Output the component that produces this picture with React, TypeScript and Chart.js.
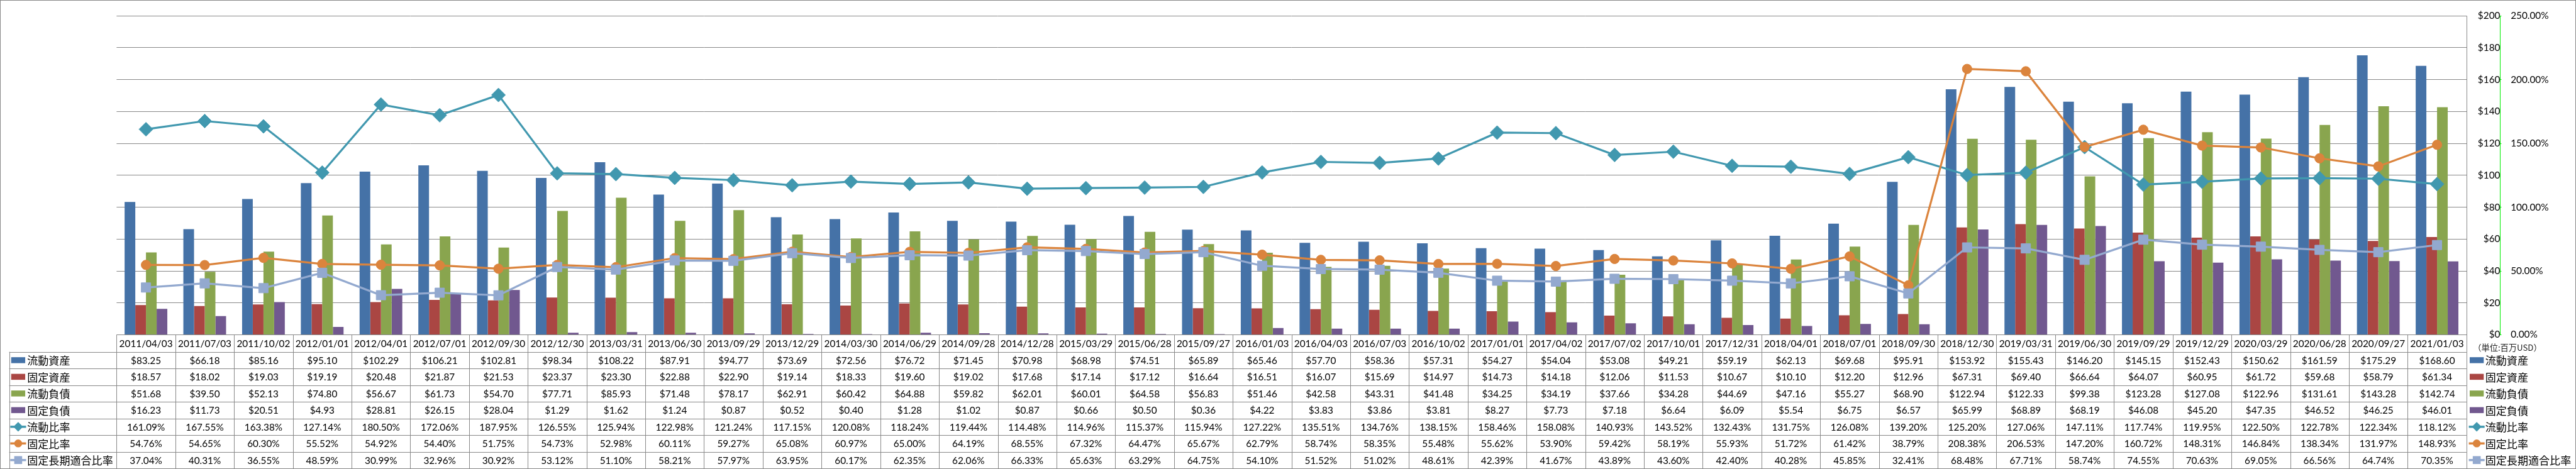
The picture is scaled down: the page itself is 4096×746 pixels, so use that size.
import { useEffect, useRef } from 'react';
import { Chart, registerables } from 'chart.js';

Chart.register(...registerables);

const W = 4096;
const H = 746;
const S = W / 5877;

const categories = [
  '2011/04/03', '2011/07/03', '2011/10/02', '2012/01/01', '2012/04/01', '2012/07/01', '2012/09/30', '2012/12/30',
  '2013/03/31', '2013/06/30', '2013/09/29', '2013/12/29', '2014/03/30', '2014/06/29', '2014/09/28', '2014/12/28',
  '2015/03/29', '2015/06/28', '2015/09/27', '2016/01/03', '2016/04/03', '2016/07/03', '2016/10/02', '2017/01/01',
  '2017/04/02', '2017/07/02', '2017/10/01', '2017/12/31', '2018/04/01', '2018/07/01', '2018/09/30', '2018/12/30',
  '2019/03/31', '2019/06/30', '2019/09/29', '2019/12/29', '2020/03/29', '2020/06/28', '2020/09/27', '2021/01/03',
];

const currentAssets = [
  83.25, 66.18, 85.16, 95.10, 102.29, 106.21, 102.81, 98.34, 108.22, 87.91, 94.77, 73.69, 72.56, 76.72, 71.45, 70.98,
  68.98, 74.51, 65.89, 65.46, 57.70, 58.36, 57.31, 54.27, 54.04, 53.08, 49.21, 59.19, 62.13, 69.68, 95.91, 153.92,
  155.43, 146.20, 145.15, 152.43, 150.62, 161.59, 175.29, 168.60,
];
const fixedAssets = [
  18.57, 18.02, 19.03, 19.19, 20.48, 21.87, 21.53, 23.37, 23.30, 22.88, 22.90, 19.14, 18.33, 19.60, 19.02, 17.68,
  17.14, 17.12, 16.64, 16.51, 16.07, 15.69, 14.97, 14.73, 14.18, 12.06, 11.53, 10.67, 10.10, 12.20, 12.96, 67.31,
  69.40, 66.64, 64.07, 60.95, 61.72, 59.68, 58.79, 61.34,
];
const currentLiabilities = [
  51.68, 39.50, 52.13, 74.80, 56.67, 61.73, 54.70, 77.71, 85.93, 71.48, 78.17, 62.91, 60.42, 64.88, 59.82, 62.01,
  60.01, 64.58, 56.83, 51.46, 42.58, 43.31, 41.48, 34.25, 34.19, 37.66, 34.28, 44.69, 47.16, 55.27, 68.90, 122.94,
  122.33, 99.38, 123.28, 127.08, 122.96, 131.61, 143.28, 142.74,
];
const fixedLiabilities = [
  16.23, 11.73, 20.51, 4.93, 28.81, 26.15, 28.04, 1.29, 1.62, 1.24, 0.87, 0.52, 0.40, 1.28, 1.02, 0.87,
  0.66, 0.50, 0.36, 4.22, 3.83, 3.86, 3.81, 8.27, 7.73, 7.18, 6.64, 6.09, 5.54, 6.75, 6.57, 65.99,
  68.89, 68.19, 46.08, 45.20, 47.35, 46.52, 46.25, 46.01,
];
const currentRatio = [
  161.09, 167.55, 163.38, 127.14, 180.50, 172.06, 187.95, 126.55, 125.94, 122.98, 121.24, 117.15, 120.08, 118.24,
  119.44, 114.48, 114.96, 115.37, 115.94, 127.22, 135.51, 134.76, 138.15, 158.46, 158.08, 140.93, 143.52, 132.43,
  131.75, 126.08, 139.20, 125.20, 127.06, 147.11, 117.74, 119.95, 122.50, 122.78, 122.34, 118.12,
];
const fixedRatio = [
  54.76, 54.65, 60.30, 55.52, 54.92, 54.40, 51.75, 54.73, 52.98, 60.11, 59.27, 65.08, 60.97, 65.00, 64.19, 68.55,
  67.32, 64.47, 65.67, 62.79, 58.74, 58.35, 55.48, 55.62, 53.90, 59.42, 58.19, 55.93, 51.72, 61.42, 38.79, 208.38,
  206.53, 147.20, 160.72, 148.31, 146.84, 138.34, 131.97, 148.93,
];
const fixedLongTermRatio = [
  37.04, 40.31, 36.55, 48.59, 30.99, 32.96, 30.92, 53.12, 51.10, 58.21, 57.97, 63.95, 60.17, 62.35, 62.06, 66.33,
  65.63, 63.29, 64.75, 54.10, 51.52, 51.02, 48.61, 42.39, 41.67, 43.89, 43.60, 42.40, 40.28, 45.85, 32.41, 68.48,
  67.71, 58.74, 74.55, 70.63, 69.05, 66.56, 64.74, 70.35,
];

const seriesLabels = ['流動資産', '固定資産', '流動負債', '固定負債', '流動比率', '固定比率', '固定長期適合比率'];
const dollarAxisMax = 200;
const dollarAxisStep = 20;
const percentAxisMax = 250;
const percentAxisStep = 50;
const unitLabel = '（単位:百万USD）';

const BLUE = '#4572A7';
const RED = '#AA4643';
const GREEN = '#89A54E';
const PURPLE = '#71588F';
const TEAL = '#4198AF';
const ORANGE = '#DB843D';
const LIGHTBLUE = '#93A9CF';
const GRID = '#888888';
const AXIS_GREEN = '#00EE00';

const NUM_FONT = 'Lato, "Noto Sans CJK JP", sans-serif';
const CJK_FONT = '"Noto Sans CJK JP", sans-serif';
const TF = 22 * S;

// layout in reference pixels
const PLOT_L = 266;
const PLOT_R = 5627;
const PLOT_T = 15;
const PLOT_B = 764;
const Y_AXIS_W = 77;

type Marker = 'diamond' | 'circle' | 'square';
type RowDef = {
  label: string;
  values: number[];
  kind: 'bar' | 'line';
  color: string;
  marker?: Marker;
  fmt: (v: number) => string;
};

const money = (v: number) => '$' + v.toFixed(2);
const pct = (v: number) => v.toFixed(2) + '%';

const rows: RowDef[] = [
  { label: seriesLabels[0], values: currentAssets, kind: 'bar', color: BLUE, fmt: money },
  { label: seriesLabels[1], values: fixedAssets, kind: 'bar', color: RED, fmt: money },
  { label: seriesLabels[2], values: currentLiabilities, kind: 'bar', color: GREEN, fmt: money },
  { label: seriesLabels[3], values: fixedLiabilities, kind: 'bar', color: PURPLE, fmt: money },
  { label: seriesLabels[4], values: currentRatio, kind: 'line', color: TEAL, marker: 'diamond', fmt: pct },
  { label: seriesLabels[5], values: fixedRatio, kind: 'line', color: ORANGE, marker: 'circle', fmt: pct },
  { label: seriesLabels[6], values: fixedLongTermRatio, kind: 'line', color: LIGHTBLUE, marker: 'square', fmt: pct },
];

function drawMarker(ctx: CanvasRenderingContext2D, m: Marker, x: number, y: number, r: number, color: string) {
  ctx.fillStyle = color;
  ctx.beginPath();
  if (m === 'diamond') {
    ctx.moveTo(x - r, y);
    ctx.lineTo(x, y - r);
    ctx.lineTo(x + r, y);
    ctx.lineTo(x, y + r);
    ctx.closePath();
  } else if (m === 'circle') {
    ctx.arc(x, y, r, 0, Math.PI * 2);
  } else {
    ctx.rect(x - r, y - r, 2 * r, 2 * r);
  }
  ctx.fill();
}

function drawKey(ctx: CanvasRenderingContext2D, row: RowDef, cx: number, cy: number) {
  if (row.kind === 'bar') {
    ctx.fillStyle = row.color;
    ctx.fillRect(cx - 16 * S, cy - 6.8 * S, 32 * S, 13.6 * S);
  } else {
    ctx.strokeStyle = row.color;
    ctx.lineWidth = 5 * S;
    ctx.beginPath();
    ctx.moveTo(cx - 18 * S, cy);
    ctx.lineTo(cx + 18 * S, cy);
    ctx.stroke();
    const r = row.marker === 'diamond' ? 11 * S : 9 * S;
    drawMarker(ctx, row.marker as Marker, cx, cy, r, row.color);
  }
}

const tablePlugin = {
  id: 'dataTable',
  afterDraw(chart: any) {
    const ctx: CanvasRenderingContext2D = chart.ctx;
    const { left, right, top, bottom } = chart.chartArea;
    const xs = chart.scales.x;
    const n = categories.length;
    const colW = (right - left) / n;
    const headerH = 39 * S;
    const rowH = 38 * S;
    const headerBottom = bottom + headerH;
    const tableBottom = headerBottom + rows.length * rowH;
    const legendLeft = 21 * S;
    const px = (v: number) => Math.round(v) + 0.5;

    ctx.save();
    ctx.strokeStyle = GRID;
    ctx.lineWidth = 1;
    ctx.beginPath();
    for (let i = 0; i <= n; i++) {
      const x = px(left + i * colW);
      ctx.moveTo(x, i === n ? top : bottom);
      ctx.lineTo(x, tableBottom);
    }
    for (let k = 0; k <= rows.length; k++) {
      const y = px(headerBottom + k * rowH);
      ctx.moveTo(legendLeft, y);
      ctx.lineTo(right, y);
    }
    ctx.moveTo(px(legendLeft), headerBottom);
    ctx.lineTo(px(legendLeft), tableBottom);
    ctx.stroke();

    ctx.fillStyle = '#000';
    ctx.textAlign = 'center';
    ctx.textBaseline = 'middle';
    ctx.font = `${TF}px ${NUM_FONT}`;
    categories.forEach((c, i) => {
      ctx.fillText(c, xs.getPixelForValue(i), bottom + headerH / 2 + 1);
    });
    rows.forEach((row, k) => {
      const yc = headerBottom + (k + 0.5) * rowH + 1;
      row.values.forEach((v, i) => {
        ctx.fillText(row.fmt(v), xs.getPixelForValue(i), yc);
      });
    });

    // legend keys (in table and at right)
    rows.forEach((row, k) => {
      const yc = headerBottom + (k + 0.5) * rowH;
      drawKey(ctx, row, 41.5 * S, yc);
      drawKey(ctx, row, 5650.5 * S, yc);
      ctx.fillStyle = '#000';
      ctx.textAlign = 'left';
      ctx.textBaseline = 'middle';
      ctx.font = `${24.5 * S}px ${CJK_FONT}`;
      ctx.fillText(row.label, 62 * S, yc + 1);
      ctx.fillText(row.label, 5670 * S, yc + 1);
    });

    // unit label
    ctx.font = `${19 * S}px ${CJK_FONT}`;
    ctx.fillStyle = '#222';
    ctx.textAlign = 'left';
    ctx.fillText(unitLabel, 5642 * S, 793 * S);

    // outer border
    ctx.strokeStyle = GRID;
    ctx.lineWidth = 1;
    ctx.strokeRect(0.5, 0.5, W - 1, H - 1);
    ctx.restore();
  },
};

export default function App() {
  const ref = useRef<HTMLCanvasElement>(null);
  useEffect(() => {
    document.body.style.margin = '0';
    const canvas = ref.current as HTMLCanvasElement;
    const m = document.createElement('canvas').getContext('2d') as CanvasRenderingContext2D;
    m.font = `${TF}px ${NUM_FONT}`;
    const widest = m.measureText('$' + dollarAxisMax).width;
    const padY = Math.max(0, 5701 * S - PLOT_R * S - widest);
    const padY1 = 5728 * S - 5704 * S - 2;

    const barDs = rows.slice(0, 4).map((r) => ({
      type: 'bar' as const,
      label: r.label,
      data: r.values,
      backgroundColor: r.color,
      borderWidth: 0,
      yAxisID: 'y',
      order: 10,
      categoryPercentage: 0.727,
      barPercentage: 1,
    }));
    const lineStyle: Record<string, any> = {
      diamond: { pointStyle: 'rectRot', pointRadius: 11 },
      circle: { pointStyle: 'circle', pointRadius: 7.6 },
      square: { pointStyle: 'rect', pointRadius: 10.6 },
    };
    const lineDs = rows.slice(4).map((r, i) => ({
      type: 'line' as const,
      label: r.label,
      data: r.values,
      borderColor: r.color,
      backgroundColor: r.color,
      borderWidth: 3.2,
      pointBackgroundColor: r.color,
      pointBorderColor: r.color,
      pointBorderWidth: 1,
      ...lineStyle[r.marker as string],
      tension: 0,
      fill: false,
      yAxisID: 'y1',
      order: 2 - i,
    }));

    const chart = new Chart(canvas, {
      type: 'bar',
      data: { labels: categories, datasets: [...barDs, ...lineDs] as any },
      options: {
        responsive: false,
        maintainAspectRatio: false,
        devicePixelRatio: 1,
        animation: false,
        events: [],
        layout: {
          padding: { left: PLOT_L * S, top: PLOT_T * S, right: 0, bottom: H - PLOT_B * S },
        },
        plugins: { legend: { display: false }, tooltip: { enabled: false } },
        scales: {
          x: { type: 'category', display: false, offset: true },
          y: {
            position: 'right',
            min: 0,
            max: dollarAxisMax,
            ticks: {
              stepSize: dollarAxisStep,
              callback: (v: any) => '$' + v,
              color: '#000',
              font: { size: TF, family: NUM_FONT },
              crossAlign: 'far',
              padding: padY,
            },
            grid: { color: GRID, lineWidth: 1, drawTicks: false },
            border: { display: false },
            afterFit: (s: any) => {
              s.width = Y_AXIS_W * S;
            },
          },
          y1: {
            position: 'right',
            min: 0,
            max: percentAxisMax,
            ticks: {
              stepSize: percentAxisStep,
              callback: (v: any) => Number(v).toFixed(2) + '%',
              color: '#000',
              font: { size: TF, family: NUM_FONT },
              padding: padY1,
            },
            grid: { drawOnChartArea: false, drawTicks: true, tickLength: 2, color: AXIS_GREEN, lineWidth: 1 },
            border: { display: true, color: AXIS_GREEN, dash: [3, 2], width: 1 },
            afterFit: (s: any) => {
              s.width = W - PLOT_R * S - Y_AXIS_W * S;
            },
          },
        } as any,
      },
      plugins: [tablePlugin],
    });
    return () => chart.destroy();
  }, []);

  return (
    <div style={{ position: 'absolute', left: 0, top: 0, width: W, height: H, background: '#fff' }}>
      <canvas ref={ref} width={W} height={H} style={{ display: 'block', width: W, height: H }} />
    </div>
  );
}
